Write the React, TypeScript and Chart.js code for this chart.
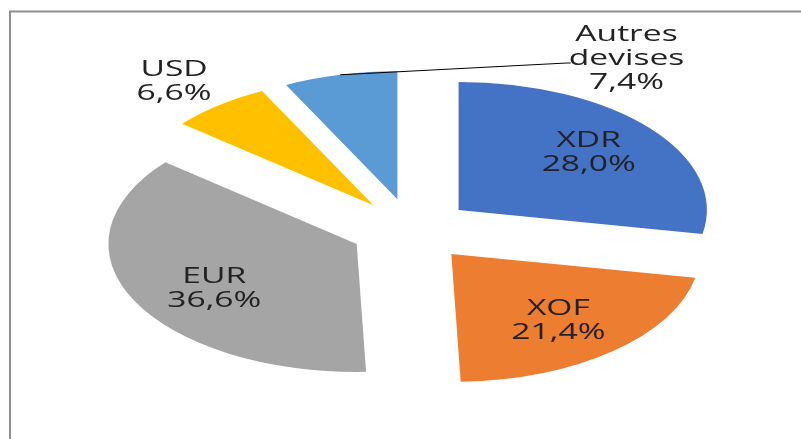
import React, { useEffect, useRef } from 'react';
import { Chart, registerables } from 'chart.js';

Chart.register(...registerables);

// ---- data ----
const categories = ['XDR', 'XOF', 'EUR', 'USD', 'Autres devises'];
const shares = [28.0, 21.4, 36.6, 6.6, 7.4];
const labelLines = [['XDR'], ['XOF'], ['EUR'], ['USD'], ['Autres', 'devises']];
const colors = ['#4472C4', '#ED7D31', '#A5A5A5', '#FFC000', '#5B9BD5'];

// ---- layout / style ----
const STRETCH_X = 1.94;      // the pie is drawn as a horizontally stretched ellipse
const EXPLODE = 31.5;        // explosion distance (vertical px units)
const RADIUS = 128;
const TEXT_STRETCH = 1.6;
const FONT = '21px "Open Sans"';
const LINE_GAP = 24;
const TEXT_COLOR = '#222222';
// label distance from slice vertex as a fraction of the radius (null = manual placement)
const LABEL_FACTOR: (number | null)[] = [0.68, 0.68, 0.68, 1.27, null];
const LABEL_NUDGE: [number, number][] = [[0, -1], [-3, 1], [9, 7], [-3, 4], [0, 0]];
const MANUAL_LABEL = { dx: 215, dy: -171 }; // "Autres devises" label, relative to pie centre

const fmt = (v: number) => v.toFixed(1).replace('.', ',') + '%';

function stretchedText(ctx: CanvasRenderingContext2D, text: string, x: number, y: number) {
  ctx.save();
  ctx.translate(x, y);
  ctx.scale(TEXT_STRETCH, 1);
  ctx.fillText(text, 0, 0);
  ctx.restore();
}

const explodedPie = {
  id: 'explodedPie',
  beforeDraw(chart: any) {
    const { ctx, width, height } = chart;
    ctx.save();
    ctx.fillStyle = '#ffffff';
    ctx.fillRect(0, 0, width, height);
    ctx.strokeStyle = '#8e8e8e';
    ctx.lineWidth = 2;
    ctx.beginPath();
    ctx.moveTo(10, height);
    ctx.lineTo(10, 11.5);
    ctx.lineTo(width, 11.5);
    ctx.stroke();
    ctx.restore();
  },
  beforeDatasetsDraw(chart: any) {
    const ctx: CanvasRenderingContext2D = chart.ctx;
    const meta = chart.getDatasetMeta(0);
    const vertices: { vx: number; vy: number; mid: number; arc: any }[] = [];
    meta.data.forEach((arc: any) => {
      const mid = (arc.startAngle + arc.endAngle) / 2;
      const vx = arc.x + Math.cos(mid) * EXPLODE * STRETCH_X;
      const vy = arc.y + Math.sin(mid) * EXPLODE;
      vertices.push({ vx, vy, mid, arc });
      ctx.save();
      ctx.translate(vx, vy);
      ctx.scale(STRETCH_X, 1);
      ctx.translate(-arc.x, -arc.y);
      arc.draw(ctx);
      ctx.restore();
    });

    ctx.save();
    ctx.font = FONT;
    ctx.fillStyle = TEXT_COLOR;
    ctx.textAlign = 'center';
    ctx.textBaseline = 'middle';
    vertices.forEach(({ vx, vy, mid, arc }, i) => {
      const r = arc.outerRadius;
      const lines = [...labelLines[i], fmt(shares[i])];
      let lx: number;
      let ly: number;
      const f = LABEL_FACTOR[i];
      if (f !== null) {
        lx = vx + Math.cos(mid) * r * f * STRETCH_X + LABEL_NUDGE[i][0];
        ly = vy + Math.sin(mid) * r * f + LABEL_NUDGE[i][1];
      } else {
        lx = arc.x + MANUAL_LABEL.dx;
        ly = arc.y + MANUAL_LABEL.dy;
        // leader line from the slice edge to the label
        const sx = vx + Math.cos(mid) * r * STRETCH_X;
        const sy = vy + Math.sin(mid) * r;
        const widest = Math.max(...lines.map((t) => ctx.measureText(t).width)) * TEXT_STRETCH;
        ctx.save();
        ctx.strokeStyle = '#000000';
        ctx.lineWidth = 1;
        ctx.beginPath();
        ctx.moveTo(sx, sy);
        ctx.lineTo(lx - widest / 2 - 2, ly + 4);
        ctx.lineTo(lx - widest / 2 + 2, ly + 4);
        ctx.stroke();
        ctx.restore();
      }
      const top = ly - ((lines.length - 1) * LINE_GAP) / 2;
      lines.forEach((t, k) => stretchedText(ctx, t, lx, top + k * LINE_GAP));
    });
    ctx.restore();
    return false;
  },
};

export default function App() {
  const ref = useRef<HTMLCanvasElement | null>(null);
  useEffect(() => {
    if (!ref.current) return;
    const chart = new Chart(ref.current, {
      type: 'pie',
      data: {
        labels: categories,
        datasets: [
          {
            data: shares,
            backgroundColor: colors,
            borderWidth: 0,
          },
        ],
      },
      options: {
        animation: false,
        responsive: false,
        devicePixelRatio: 1,
        radius: RADIUS,
        layout: { padding: { left: 22, top: 21, right: 0, bottom: 0 } },
        plugins: {
          legend: { display: false },
          tooltip: { enabled: false },
        },
      } as any,
      plugins: [explodedPie as any],
    });
    return () => chart.destroy();
  }, []);
  return (
    <div style={{ position: 'fixed', left: 0, top: 0, width: 801, height: 439, background: '#fff' }}>
      <canvas ref={ref} width={801} height={439} style={{ display: 'block' }} />
    </div>
  );
}
